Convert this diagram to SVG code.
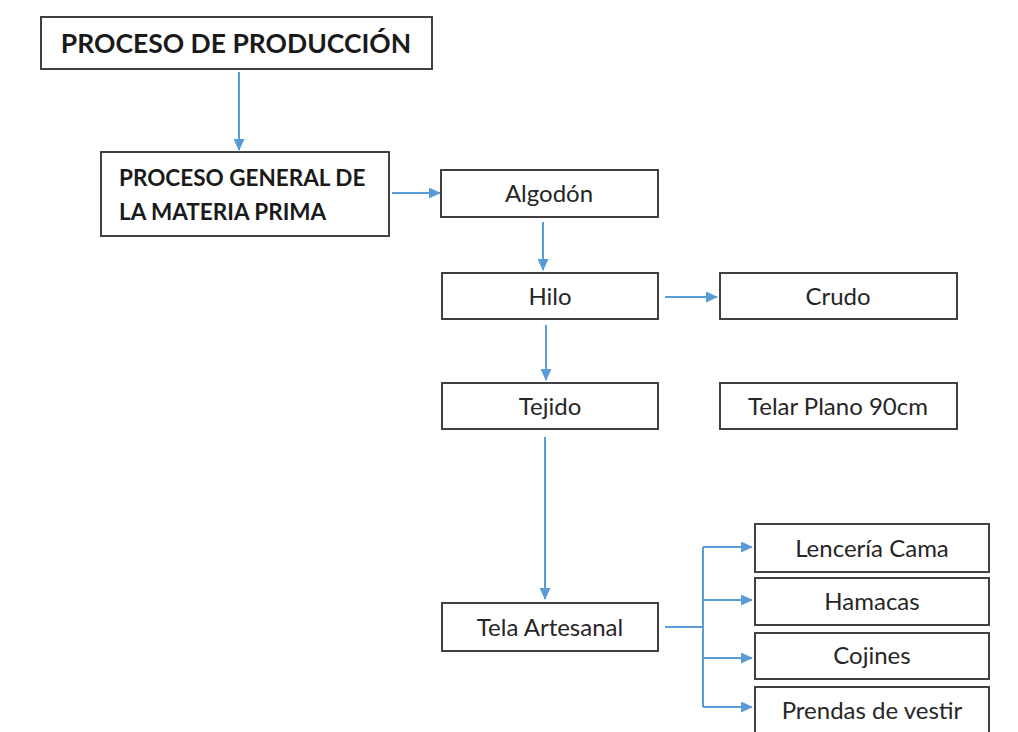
<svg xmlns="http://www.w3.org/2000/svg" width="1018" height="732" viewBox="0 0 1018 732">
<style>
.box{fill:#fff;stroke:#404040;stroke-width:2}
.t{font-family:Lato,"Liberation Sans",sans-serif;font-size:24px;fill:#262626;text-anchor:middle}
.b{font-family:Lato,"Liberation Sans",sans-serif;font-weight:bold;fill:#1a1a1a}
.c{fill:none;stroke:#5b9bd5;stroke-width:2}
</style>
<defs>
<marker id="ah" markerWidth="12" markerHeight="11" refX="11" refY="5.5" orient="auto" markerUnits="userSpaceOnUse" viewBox="0 0 12 11">
<path d="M0,0 L12,5.5 L0,11 z" fill="#5b9bd5"/>
</marker>
</defs>
<rect width="1018" height="732" fill="#fff"/>
<g id="connectors">
<line class="c" x1="239" y1="72" x2="239" y2="150" marker-end="url(#ah)"/>
<line class="c" x1="392" y1="193" x2="440" y2="193" marker-end="url(#ah)"/>
<line class="c" x1="543" y1="222" x2="543" y2="270" marker-end="url(#ah)"/>
<line class="c" x1="546" y1="325" x2="546" y2="380" marker-end="url(#ah)"/>
<line class="c" x1="665" y1="297" x2="717" y2="297" marker-end="url(#ah)"/>
<line class="c" x1="545" y1="437" x2="545" y2="599" marker-end="url(#ah)"/>
<path class="c" d="M665,627 H703 M703,547 V707" stroke-width="1.5"/>
<line class="c" x1="703" y1="547" x2="752" y2="547" marker-end="url(#ah)"/>
<line class="c" x1="703" y1="600" x2="752" y2="600" marker-end="url(#ah)"/>
<line class="c" x1="703" y1="658" x2="752" y2="658" marker-end="url(#ah)"/>
<line class="c" x1="703" y1="707" x2="752" y2="707" marker-end="url(#ah)"/>
</g>
<g id="n-produccion">
<rect class="box" x="41" y="17" width="391" height="52"/>
<text class="b" x="236" y="53" font-size="26.5" text-anchor="middle">PROCESO DE PRODUCCIÓN</text>
</g>
<g id="n-materia">
<rect class="box" x="101" y="152" width="288" height="84"/>
<text class="b" x="119" y="186" font-size="22.5">PROCESO GENERAL DE</text>
<text class="b" x="119" y="220" font-size="22.5">LA MATERIA PRIMA</text>
</g>
<g id="n-algodon">
<rect class="box" x="441" y="170" width="217" height="47"/>
<text class="t" x="549" y="202">Algodón</text>
</g>
<g id="n-hilo">
<rect class="box" x="442" y="273" width="216" height="46"/>
<text class="t" x="550" y="305">Hilo</text>
</g>
<g id="n-crudo">
<rect class="box" x="720" y="273" width="237" height="46"/>
<text class="t" x="838" y="305">Crudo</text>
</g>
<g id="n-tejido">
<rect class="box" x="442" y="383" width="216" height="46"/>
<text class="t" x="550" y="415">Tejido</text>
</g>
<g id="n-telar">
<rect class="box" x="720" y="383" width="237" height="46"/>
<text class="t" x="838" y="415">Telar Plano 90cm</text>
</g>
<g id="n-tela">
<rect class="box" x="442" y="603" width="216" height="48"/>
<text class="t" x="550" y="636">Tela Artesanal</text>
</g>
<g id="n-lenceria">
<rect class="box" x="755" y="524" width="234" height="48"/>
<text class="t" x="872" y="557">Lencería Cama</text>
</g>
<g id="n-hamacas">
<rect class="box" x="755" y="578" width="234" height="47"/>
<text class="t" x="872" y="610">Hamacas</text>
</g>
<g id="n-cojines">
<rect class="box" x="755" y="633" width="234" height="46"/>
<text class="t" x="872" y="664">Cojines</text>
</g>
<g id="n-prendas">
<rect class="box" x="755" y="687" width="234" height="50"/>
<text class="t" x="872" y="719">Prendas de vestir</text>
</g>
</svg>
